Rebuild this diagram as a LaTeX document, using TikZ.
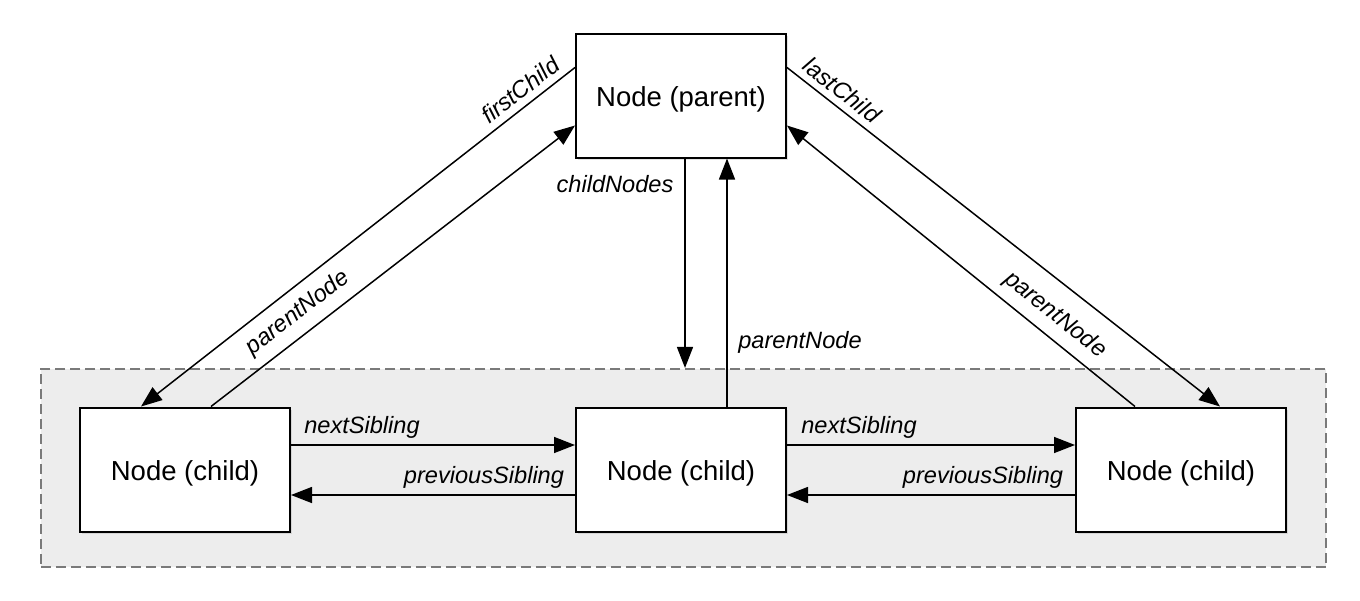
\documentclass[tikz,border=0pt]{standalone}
\usepackage{fontspec}
\setmainfont{Liberation Sans}
\usetikzlibrary{arrows.meta,shadows,calc}
\begin{document}
\begin{tikzpicture}[x=1pt,y=-1pt,
  box/.style={draw, line width=2pt, fill=white, minimum width=210pt, minimum height=124pt,
    inner sep=0pt, font=\fontsize{27.5}{33}\selectfont, text height=28pt, text depth=6pt,
    drop shadow={shadow xshift=2pt, shadow yshift=-2pt, opacity=0.22}},
  grpbox/.style={draw=black!52, fill=black!7, line width=1.6pt, dash pattern=on 10pt off 5pt,
    minimum width=1285.5pt, minimum height=198.5pt, inner sep=0pt},
  arr/.style={line width=1.5pt, -{Triangle[length=21pt,width=16pt]}},
  lbl/.style={font=\fontsize{23.6}{28}\selectfont\itshape, inner sep=0pt},
]
\useasboundingbox (0,0) rectangle (1360,600);
\node[grpbox] (grp) at (683.5,468) {};
\node[box] (parent) at (681,95.5) {Node (parent)};
\node[box] (lc) at (185,469.5) {Node (child)};
\node[box] (mc) at (681,469.5) {Node (child)};
\node[box] (rc) at (1181,469.5) {Node (child)};

% diagonal connectors
\draw[arr] ([yshift=-35pt]parent.north west) -- ([xshift=62pt]lc.north west);
\draw[arr] ([xshift=132pt]lc.north west) -- ([yshift=-93pt]parent.north west);
\draw[arr] ([yshift=-35pt]parent.north east) -- ([xshift=-67pt]rc.north east);
\draw[arr] ([xshift=-152pt]rc.north east) -- ([yshift=-93pt]parent.north east);

% vertical connectors
\draw[arr] ([xshift=4pt]parent.south) -- ([xshift=4pt]parent.south |- grp.north);
\draw[arr] ([xshift=46pt]mc.north) -- ([xshift=46pt]mc.north |- parent.south);

% sibling connectors
\draw[arr] ([yshift=24.5pt]lc.east) -- ([yshift=24.5pt]mc.west);
\draw[arr] ([yshift=-25.5pt]mc.west) -- ([yshift=-25.5pt]lc.east);
\draw[arr] ([yshift=24.5pt]mc.east) -- ([yshift=24.5pt]rc.west);
\draw[arr] ([yshift=-25.5pt]rc.west) -- ([yshift=-25.5pt]mc.east);

% labels
\node[lbl, rotate=38] (l1) at (520,90) {firstChild};
\node[lbl, rotate=37.6] (l2) at (298,313) {parentNode};
\node[lbl, rotate=-38] (l3) at (842,90) {lastChild};
\node[lbl, rotate=-38.8] (l4) at (1055,315) {parentNode};
\node[lbl, anchor=base] (l5) at (615,192) {childNodes};
\node[lbl, anchor=base] (l6) at (800,348) {parentNode};
\node[lbl, anchor=base] (l7) at (362,433) {nextSibling};
\node[lbl, anchor=base] (l8) at (484,483) {previousSibling};
\node[lbl, anchor=base] (l9) at (859,433) {nextSibling};
\node[lbl, anchor=base] (l10) at (983,483) {previousSibling};
\end{tikzpicture}
\end{document}
